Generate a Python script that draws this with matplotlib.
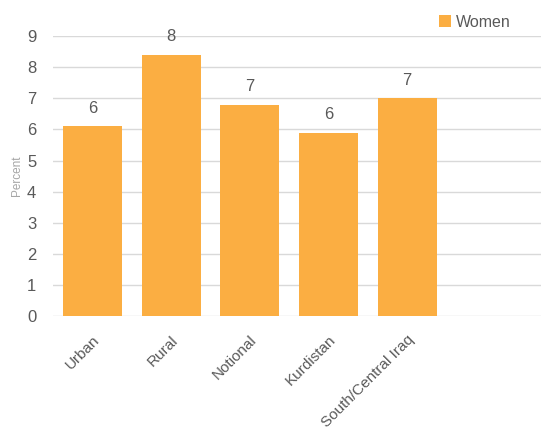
import matplotlib.pyplot as plt

plt.rcParams['font.family'] = ['Liberation Sans', 'DejaVu Sans']

categories = ["Urban", "Rural", "Notional", "Kurdistan", "South/Central Iraq"]
women = [6.1, 8.4, 6.8, 5.9, 7.0]
labels = ["6", "8", "7", "6", "7"]

bar_color = "#FBAE42"
text_color = "#595959"

fig = plt.figure(figsize=(5.41, 4.29), dpi=100)
ax = fig.add_axes([0.098, 0.263, 0.902, 0.653])

x = range(len(categories))
bars = ax.bar(x, women, width=0.75, color=bar_color, label="Women", zorder=3)

for b, lab in zip(bars, labels):
    ax.annotate(lab, (b.get_x() + b.get_width() / 2, b.get_height()),
                xytext=(0, 7.5), textcoords="offset points",
                ha="center", va="bottom", fontsize=12, color=text_color)

ax.set_xlim(-0.5, 5.7)
ax.set_ylim(0, 9)
ax.set_yticks(range(10))
ax.set_xticks(list(x))
ax.set_xticklabels(categories, rotation=45, ha="right", rotation_mode="anchor",
                   fontsize=11, color=text_color)
ax.tick_params(axis="y", length=0, labelsize=12, labelcolor=text_color, pad=12)
ax.tick_params(axis="x", length=0, pad=12)
ax.grid(axis="y", color="#D9D9D9", linewidth=1, zorder=0)
for s in ax.spines.values():
    s.set_visible(False)
ax.set_ylabel("Percent", fontsize=8.5, color="#A6A6A6", labelpad=3)

ax.legend(loc="lower right", bbox_to_anchor=(0.95, 1.0), frameon=False,
          fontsize=11.5, handlelength=0.7, handleheight=0.7, handletextpad=0.3,
          labelcolor=text_color, borderaxespad=0)

fig.savefig("out.png", dpi=100)
